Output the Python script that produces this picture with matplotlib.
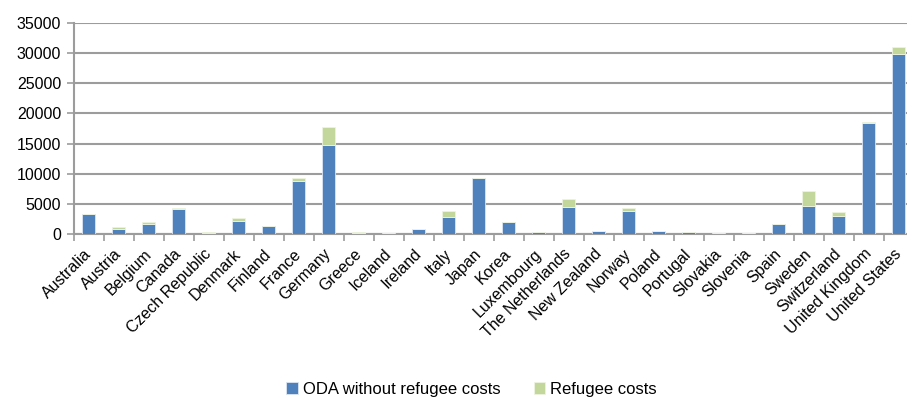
import matplotlib.pyplot as plt
import matplotlib.transforms as mtransforms
import numpy as np

countries = ["Australia", "Austria", "Belgium", "Canada", "Czech Republic", "Denmark",
             "Finland", "France", "Germany", "Greece", "Iceland", "Ireland", "Italy",
             "Japan", "Korea", "Luxembourg", "The Netherlands", "New Zealand", "Norway",
             "Poland", "Portugal", "Slovakia", "Slovenia", "Spain", "Sweden",
             "Switzerland", "United Kingdom", "United States"]
oda = [3200, 830, 1600, 4050, 190, 2150, 1250, 8800, 14800, 180, 40, 730, 2830,
       9250, 1900, 330, 4480, 440, 3780, 430, 230, 70, 50, 1560, 4660, 3000,
       18370, 29850]
refugee = [40, 330, 280, 230, 15, 400, 30, 400, 2950, 50, 5, 10, 1000, 0, 0, 20,
           1290, 10, 500, 20, 5, 5, 5, 10, 2440, 560, 270, 1220]
yticks = [0, 5000, 10000, 15000, 20000, 25000, 30000, 35000]

plt.rcParams['font.family'] = ['Liberation Sans', 'DejaVu Sans']
plt.rcParams['font.size'] = 11.5

fig = plt.figure(figsize=(9.07, 3.99), dpi=100)
# the right edge of the plot area runs past the image, as in the source
ax = fig.add_axes([73.5 / 907, 1 - 233.7 / 399, 840 / 907, 210.4 / 399])

x = np.arange(len(countries))
blue = "#4F81BD"
green = "#C3D69B"
ax.bar(x, oda, width=0.42, color=blue, edgecolor="#dce6f2", linewidth=0.6,
       label="ODA without refugee costs", zorder=3)
ax.bar(x, refugee, width=0.42, bottom=oda, color=green, edgecolor="#eef4e0",
       linewidth=0.6, label="Refugee costs", zorder=3)

ax.set_xlim(-0.5, len(countries) - 0.5)
ax.set_ylim(0, 35000)
ax.set_yticks(yticks)
ax.set_yticklabels([str(v) for v in yticks])
ax.yaxis.grid(True, color="#9c9c9c", linewidth=1.5, zorder=0)

ax.set_xticks(x)
ax.set_xticklabels(countries, rotation=45, ha="right", va="top",
                   rotation_mode="anchor")
ax.set_xticks(np.arange(len(countries) + 1) - 0.5, minor=True)
ax.tick_params(axis="x", which="major", length=0, pad=9)
ax.tick_params(axis="x", which="minor", length=5, color="#9c9c9c", width=1.2)
ax.tick_params(axis="y", length=5, color="#9c9c9c", width=1.2, pad=4)

# labels sit a little left of the bar centres
shift = mtransforms.ScaledTranslation(-0.05, 0, fig.dpi_scale_trans)
for lab in ax.get_xticklabels():
    lab.set_transform(lab.get_transform() + shift)

for s in ["top", "right"]:
    ax.spines[s].set_visible(False)
for s in ["left", "bottom"]:
    ax.spines[s].set_color("#9c9c9c")
    ax.spines[s].set_linewidth(1.5)

fig.legend(loc="center", bbox_to_anchor=(0.52, 0.025), ncol=2, frameon=False,
           handlelength=0.7, handleheight=0.7, handletextpad=0.3,
           columnspacing=2.0, fontsize=12)

fig.savefig("out.png", dpi=100)
